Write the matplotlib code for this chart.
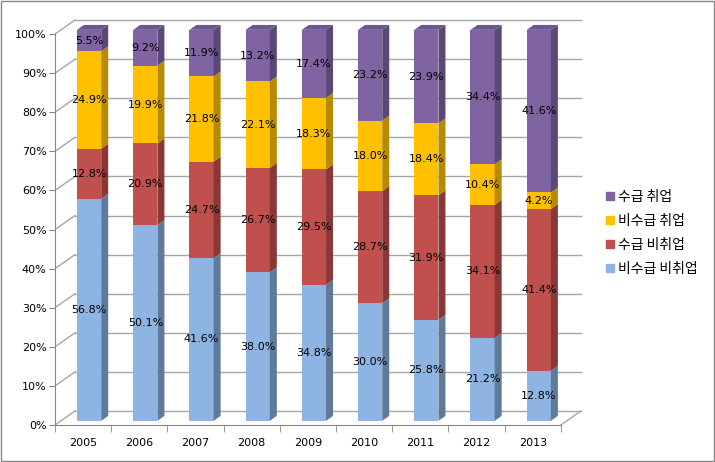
import numpy as np
import matplotlib.pyplot as plt
from matplotlib.patches import Polygon, Rectangle
from matplotlib.lines import Line2D

years = ['2005', '2006', '2007', '2008', '2009', '2010', '2011', '2012', '2013']
series = ['비수급 비취업', '수급 비취업', '비수급 취업', '수급 취업']
non_recv_non_emp = [56.8, 50.1, 41.6, 38.0, 34.8, 30.0, 25.8, 21.2, 12.8]
recv_non_emp = [12.8, 20.9, 24.7, 26.7, 29.5, 28.7, 31.9, 34.1, 41.4]
non_recv_emp = [24.9, 19.9, 21.8, 22.1, 18.3, 18.0, 18.4, 10.4, 4.2]
recv_emp = [5.5, 9.2, 11.9, 13.2, 17.4, 23.2, 23.9, 34.4, 41.6]

front_cols = ['#8EB4E3', '#C0504D', '#FFC000', '#8064A2']
side_cols = ['#5E7A9C', '#8A3836', '#B88A00', '#5C4778']
top_col = '#6C5690'

values = np.array([non_recv_non_emp, recv_non_emp, non_recv_emp, recv_emp])
shares = values / values.sum(axis=0) * 100

fig = plt.figure(figsize=(7.15, 4.62), dpi=100)
ax = fig.add_axes([55 / 715, 37 / 462, 534 / 715, 406.6 / 462])
ax.set_xlim(-0.5, 9.0)
ax.set_ylim(0, 104)

# 3d depth offset in data units
ddx, ddy = 0.356, 3.58
f0, f1 = 0.3, 0.65
w = 0.43
grid_c = '#A6A6A6'
axis_c = '#868686'

n = len(years)
# back wall + floor
for g in range(0, 101, 10):
    ax.plot([-0.5 + ddx, n - 0.5 + ddx], [g + ddy, g + ddy], color=grid_c, lw=1, zorder=1)
    ax.plot([-0.5, -0.5 + ddx], [g, g + ddy], color=grid_c, lw=1, zorder=1)
ax.plot([n - 0.5, n - 0.5 + ddx], [0, ddy], color=grid_c, lw=1, zorder=1)

def pt(x, y, f):
    return (x + f * ddx, y + f * ddy)

for i in range(n):
    bottom = 0
    for k in range(len(series)):
        top = bottom + shares[k][i]
        xl, xr = i - w / 2, i + w / 2
        front = [pt(xl, bottom, f0), pt(xr, bottom, f0), pt(xr, top, f0), pt(xl, top, f0)]
        side = [pt(xr, bottom, f0), pt(xr, bottom, f1), pt(xr, top, f1), pt(xr, top, f0)]
        ax.add_patch(Polygon(front, closed=True, fc=front_cols[k], ec='none', zorder=3))
        ax.add_patch(Polygon(side, closed=True, fc=side_cols[k], ec='none', zorder=3))
        if k == len(series) - 1:
            lid = [pt(xl, top, f0), pt(xr, top, f0), pt(xr, top, f1), pt(xl, top, f1)]
            ax.add_patch(Polygon(lid, closed=True, fc=top_col, ec='none', zorder=3))
        cx, cy = pt(i, (bottom + top) / 2, f0)
        ax.text(cx, cy, f'{values[k][i]:.1f}%', ha='center', va='center',
                fontsize=8, color='black', zorder=4)
        bottom = top

for s in ['top', 'right']:
    ax.spines[s].set_visible(False)
ax.spines['left'].set_bounds(0, 100)
ax.spines['bottom'].set_bounds(-0.5, n - 0.5)
ax.spines['left'].set_color(axis_c)
ax.spines['bottom'].set_color(axis_c)

ax.set_yticks(range(0, 101, 10))
ax.set_yticklabels([f'{v}%' for v in range(0, 101, 10)], fontsize=8)
ax.set_xticks(range(n))
ax.set_xticklabels(years, fontsize=8)
ax.set_xticks(np.arange(-0.5, n, 1), minor=True)
ax.tick_params(axis='x', which='major', length=0, pad=9)
ax.tick_params(axis='x', which='minor', length=5, color=axis_c, direction='out')
ax.tick_params(axis='y', length=4, color=axis_c, direction='out', pad=2)

handles = [Line2D([], [], marker='s', ls='none', color=front_cols[k], markersize=6)
           for k in [3, 2, 1, 0]]
labels = [series[k] for k in [3, 2, 1, 0]]
fig.legend(handles, labels, loc='upper left', bbox_to_anchor=(594 / 715, 1 - 177 / 462),
           frameon=False, prop={'family': ['Noto Sans CJK KR', 'DejaVu Sans'], 'size': 10},
           handlelength=0.5, handletextpad=0.35, labelspacing=0.74)

fig.patches.append(Rectangle((0.002, 0.003), 0.996, 0.994, transform=fig.transFigure,
                             fill=False, ec='#868686', lw=1))

plt.savefig('out.png', dpi=100)
